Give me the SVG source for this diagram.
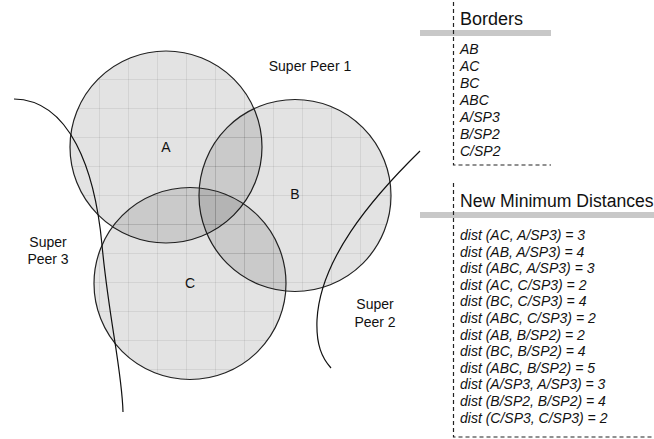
<svg xmlns="http://www.w3.org/2000/svg" width="654" height="439" viewBox="0 0 654 439">
<defs>
<pattern id="grid" x="12" y="21" width="29" height="29" patternUnits="userSpaceOnUse">
<rect width="29" height="29" fill="#000" fill-opacity="0.11"/>
<path d="M0,0.5H29M0.5,0V29" stroke="#000" stroke-opacity="0.07" stroke-width="1" fill="none"/>
</pattern>
<style>
.c{fill:url(#grid);stroke:#222;stroke-width:1.2}
.cur{fill:none;stroke:#111;stroke-width:1.2}
.lbl{font-family:"Liberation Sans",Arial,sans-serif;font-size:14px;fill:#111}
.hd{font-family:"Liberation Sans",Arial,sans-serif;font-size:18px;fill:#111}
.it{font-family:"Liberation Sans",Arial,sans-serif;font-size:14px;font-style:italic;fill:#111}
.dash{stroke:#222;stroke-width:1.2;stroke-dasharray:4,3;fill:none}
.bar{fill:#c8c8c8}
</style>
</defs>
<rect width="654" height="439" fill="#fff"/>
<g id="circleA"><circle class="c" cx="166" cy="147" r="96"/><text class="lbl" x="166" y="152" text-anchor="middle">A</text></g>
<g id="circleB"><circle class="c" cx="295" cy="195.5" r="96"/><text class="lbl" x="295" y="199" text-anchor="middle">B</text></g>
<g id="circleC"><circle class="c" cx="190" cy="283.5" r="96"/><text class="lbl" x="190" y="288" text-anchor="middle">C</text></g>
<g id="connectors">
<path class="cur" d="M14,99 C70,100 95,170 102,245 S122,370 123,412"/>
<path class="cur" d="M420,151 C370,200 320,260 317,320 C316,345 322,358 331,368"/>
</g>
<g id="sp1"><text class="lbl" x="310" y="71" text-anchor="middle">Super Peer 1</text></g>
<g id="sp3"><text class="lbl" x="48" y="247" text-anchor="middle">Super</text><text class="lbl" x="48" y="264" text-anchor="middle">Peer 3</text></g>
<g id="sp2"><text class="lbl" x="375" y="309" text-anchor="middle">Super</text><text class="lbl" x="375" y="327" text-anchor="middle">Peer 2</text></g>
<g id="borders">
<rect class="bar" x="420" y="30" width="131" height="6"/>
<path class="dash" d="M453.5,2V165H551"/>
<text class="hd" x="460" y="25">Borders</text>
<text class="it" x="460" y="54">AB</text>
<text class="it" x="460" y="71">AC</text>
<text class="it" x="460" y="88">BC</text>
<text class="it" x="460" y="105">ABC</text>
<text class="it" x="460" y="122">A/SP3</text>
<text class="it" x="460" y="139">B/SP2</text>
<text class="it" x="460" y="156">C/SP2</text>
</g>
<g id="distances">
<rect class="bar" x="420" y="212" width="234" height="6"/>
<path class="dash" d="M453.5,183V437H654"/>
<text class="hd" x="460" y="207" style="font-size:17.6px">New Minimum Distances</text>
<text class="it" x="460" y="240">dist (AC, A/SP3) = 3</text>
<text class="it" x="460" y="256.6">dist (AB, A/SP3) = 4</text>
<text class="it" x="460" y="273.2">dist (ABC, A/SP3) = 3</text>
<text class="it" x="460" y="289.8">dist (AC, C/SP3) = 2</text>
<text class="it" x="460" y="306.4">dist (BC, C/SP3) = 4</text>
<text class="it" x="460" y="323">dist (ABC, C/SP3) = 2</text>
<text class="it" x="460" y="339.6">dist (AB, B/SP2) = 2</text>
<text class="it" x="460" y="356.2">dist (BC, B/SP2) = 4</text>
<text class="it" x="460" y="372.8">dist (ABC, B/SP2) = 5</text>
<text class="it" x="460" y="389.4">dist (A/SP3, A/SP3) = 3</text>
<text class="it" x="460" y="406">dist (B/SP2, B/SP2) = 4</text>
<text class="it" x="460" y="422.6">dist (C/SP3, C/SP3) = 2</text>
</g>
</svg>
